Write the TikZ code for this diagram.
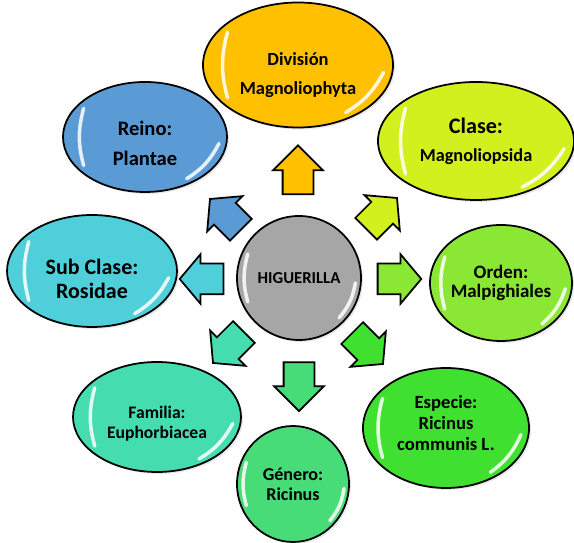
\documentclass[tikz,border=0pt]{standalone}
\usepackage{fontspec}
\setmainfont{Carlito}
\usetikzlibrary{positioning, shapes, shapes.arrows, calc, shadows}

\definecolor{divcol}{HTML}{FFC000}
\definecolor{reinocol}{HTML}{5B9BD5}
\definecolor{clasecol}{HTML}{D2F01E}
\definecolor{subcol}{HTML}{4ECFDA}
\definecolor{ordencol}{HTML}{8AE834}
\definecolor{famcol}{HTML}{45DDB0}
\definecolor{espcol}{HTML}{40E030}
\definecolor{gencol}{HTML}{48DC78}
\definecolor{centercol}{HTML}{A6A6A6}

\begin{document}
\begin{tikzpicture}[
    taxon/.style={draw, ellipse, line width=1pt, inner sep=0pt,
        drop shadow={opacity=0.18, shadow xshift=0.04cm, shadow yshift=-0.04cm}},
    caption/.style={align=center, inner sep=0pt},
    blockarrow/.style={draw, single arrow, line width=1pt, inner sep=0.29cm, minimum height=0.78cm,
        single arrow head extend=0.19cm, single arrow tip angle=100},
    longarrow/.style={blockarrow, minimum height=0.98cm, single arrow tip angle=90},
    gloss/.style={white, line width=2pt, line cap=round, opacity=0.85}]
    \useasboundingbox (0,0) rectangle (11.48,10.86);

    % Nodes
    \node[taxon, circle, fill=centercol, minimum size=2.48cm,
        label={[caption, font=\bfseries\fontsize{9.5}{11}\selectfont]center:HIGUERILLA}]
        (center) at (5.98,5.30) {};
    \node[taxon, fill=divcol, minimum width=3.8cm, minimum height=2.5cm,
        label={[caption, yshift=-0.2cm, font=\bfseries\fontsize{10.5}{16.5}\selectfont]center:División\\Magnoliophyta}]
        (division) at (5.96,9.56) {};
    \node[taxon, fill=reinocol, minimum width=3.28cm, minimum height=2.2cm,
        label={[caption, yshift=-0.12cm, font=\bfseries\fontsize{11.7}{17}\selectfont]center:Reino:\\Plantae}]
        (reino) at (2.90,8.12) {};
    \node[taxon, fill=clasecol, minimum width=3.92cm, minimum height=2.36cm,
        label={[caption, font=\bfseries]center:\fontsize{12.6}{14}\selectfont Clase:\\[4pt]\fontsize{10.4}{12}\selectfont Magnoliopsida}]
        (clase) at (9.52,8.04) {};
    \node[taxon, fill=subcol, minimum width=3.4cm, minimum height=2.24cm,
        label={[caption, yshift=-0.16cm, font=\bfseries\fontsize{12.5}{13.5}\selectfont]center:Sub Clase:\\Rosidae}]
        (sub clase) at (1.84,5.44) {};
    \node[taxon, fill=ordencol, minimum width=2.84cm, minimum height=2.32cm,
        label={[caption, font=\bfseries\fontsize{10.8}{11}\selectfont]center:Orden:\\Malpighiales}]
        (orden) at (10.02,5.20) {};
    \node[taxon, fill=famcol, minimum width=3.36cm, minimum height=2.2cm,
        label={[caption, yshift=-0.14cm, font=\bfseries\fontsize{10}{11.5}\selectfont]center:Familia:\\Euphorbiacea}]
        (familia) at (3.14,2.52) {};
    \node[taxon, fill=espcol, minimum width=3.32cm, minimum height=2.4cm,
        label={[caption, yshift=0.1cm, font=\bfseries\fontsize{10.6}{12}\selectfont]center:Especie:\\Ricinus\\communis L.}]
        (especie) at (8.92,2.30) {};
    \node[taxon, fill=gencol, minimum width=2.24cm, minimum height=2.32cm,
        label={[caption, font=\bfseries\fontsize{10.3}{11.5}\selectfont]center:Género:\\Ricinus}]
        (genero) at (5.86,1.18) {};

    % Arrows
    \node[longarrow, fill=divcol, rotate=90] (to division) at (5.96,7.31) {};
    \node[blockarrow, fill=reinocol, rotate=135] (to reino) at (4.60,6.48) {};
    \node[blockarrow, fill=clasecol, rotate=45] (to clase) at (7.54,6.50) {};
    \node[blockarrow, fill=subcol, rotate=180] (to sub clase) at (4.16,5.28) {};
    \node[blockarrow, fill=ordencol] (to orden) at (7.86,5.28) {};
    \node[blockarrow, fill=famcol, rotate=225] (to familia) at (4.66,4.00) {};
    \node[blockarrow, fill=espcol, rotate=315] (to especie) at (7.26,3.98) {};
    \node[longarrow, fill=gencol, rotate=270] (to genero) at (5.98,3.28) {};

    % Highlights
    \foreach \n in {center, division, reino, clase, sub clase, orden, familia, especie, genero} {
        \draw[gloss] ($(\n.center)!0.9!(\n.155)$) to[bend right=15] ($(\n.center)!0.9!(\n.205)$);
        \draw[gloss] ($(\n.center)!0.9!(\n.-45)$) to[bend right=15] ($(\n.center)!0.9!(\n.-5)$);
    }
\end{tikzpicture}
\end{document}
